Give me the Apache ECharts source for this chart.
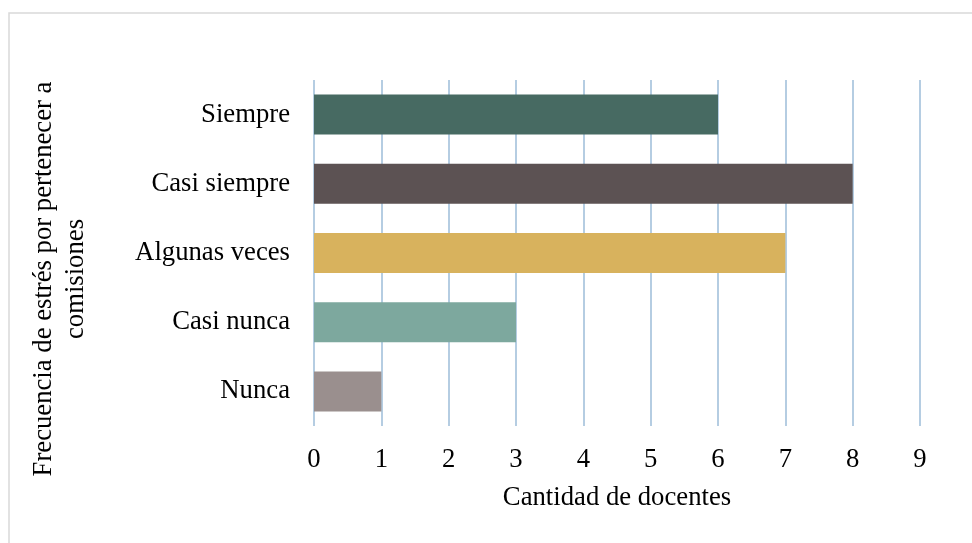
<!DOCTYPE html>
<html><head><meta charset="utf-8">
<script src="https://cdn.jsdelivr.net/npm/echarts@6/dist/echarts.min.js"></script>
<style>html,body{margin:0;padding:0;background:#fff}#c{width:972px;height:543px}</style>
</head><body><div id="c"></div>
<script>
var categories = ['Nunca', 'Casi nunca', 'Algunas veces', 'Casi siempre', 'Siempre'];
var values = [1, 3, 7, 8, 6];
var barColors = ['#9a8f8e', '#7da89e', '#d8b25d', '#5c5253', '#476a62'];
var xTicks = [0, 1, 2, 3, 4, 5, 6, 7, 8, 9];
var xTitle = 'Cantidad de docentes';
var yTitle = 'Frecuencia de estrés por pertenecer a\ncomisiones';

var font = 'Liberation Serif';
var fs = 26.7;
var chart = echarts.init(document.getElementById('c'), null, {renderer: 'canvas'});
chart.setOption({
  animation: false,
  backgroundColor: '#fff',
  grid: {left: 314, right: 52, top: 80, bottom: 117, containLabel: false},
  xAxis: {
    type: 'value', min: xTicks[0], max: xTicks[xTicks.length - 1], interval: 1,
    axisLine: {show: false}, axisTick: {show: false},
    splitLine: {show: true, lineStyle: {color: '#9dbcd9', width: 1.5}},
    axisLabel: {color: '#000', fontFamily: font, fontSize: fs, margin: 20},
    name: xTitle, nameLocation: 'middle', nameGap: 58,
    nameTextStyle: {color: '#000', fontFamily: font, fontSize: fs}
  },
  yAxis: {
    type: 'category', data: categories,
    axisLine: {show: false}, axisTick: {show: false}, splitLine: {show: false},
    axisLabel: {color: '#000', fontFamily: font, fontSize: fs, margin: 24, padding: [4, 0, 0, 0]}
  },
  graphic: [
    {type: 'rect', shape: {x: 9, y: 13, width: 1000, height: 600}, style: {fill: 'none', stroke: '#d9d9d9', lineWidth: 1.5}, silent: true},
    {type: 'text', x: 60, y: 279, rotation: Math.PI / 2,
     style: {text: yTitle, fontFamily: font, fontSize: fs, fill: '#000', align: 'center', verticalAlign: 'middle', lineHeight: 32}}
  ],
  series: [{
    type: 'bar', barWidth: 40,
    data: values.map(function (v, i) { return {value: v, itemStyle: {color: barColors[i]}}; })
  }]
});
</script></body></html>
